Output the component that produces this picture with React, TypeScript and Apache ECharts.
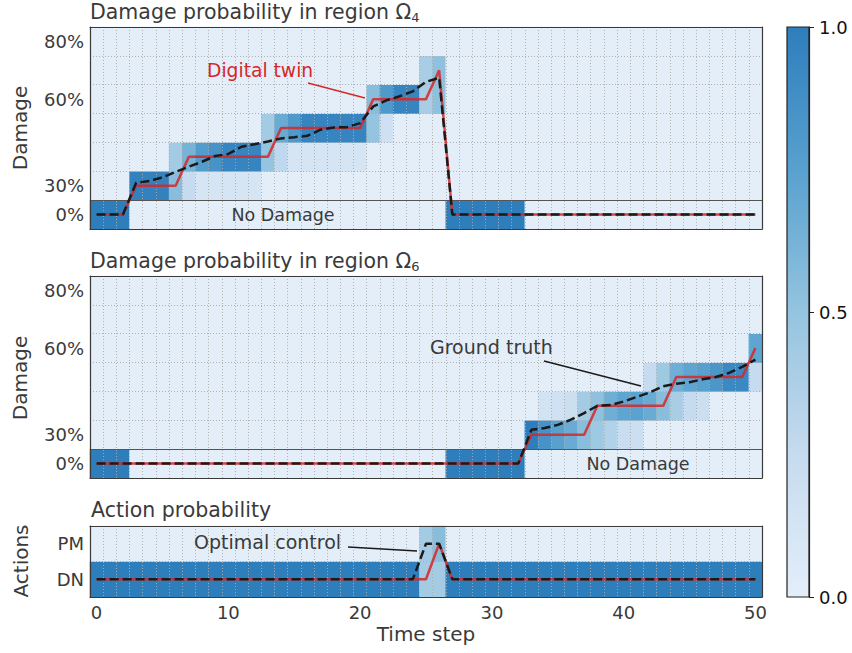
import React, { useEffect, useRef } from 'react';
import * as echarts from 'echarts';

// ---------- categories / ticks ----------
const timeSteps = Array.from({ length: 51 }, (_, i) => String(i));
const damageLevels = ['0%', '30%', '40%', '50%', '60%', '70%', '80%'];
const damageTickLabels = ['0%', '30%', '', '', '60%', '', '80%'];
const actionLabels = ['DN', 'PM'];
const colorbarTicks = [0, 0.5, 1];

// ---------- damage probability, region Omega_4 (rows = damage level, t = 0..50) ----------
const omega4Row0 = [1, 1, 1, 0, 0, 0, 0, 0, 0, 0, 0, 0, 0, 0, 0, 0, 0, 0, 0, 0, 0, 0, 0, 0, 0, 0, 0, 1, 1, 1, 1, 1, 1, 0, 0, 0, 0, 0, 0, 0, 0, 0, 0, 0, 0, 0, 0, 0, 0, 0, 0];
const omega4Row1 = [0, 0, 0, 0.97, 0.97, 0.97, 0.55, 0.25, 0.12, 0.12, 0.12, 0.12, 0.12, 0, 0, 0, 0, 0, 0, 0, 0, 0, 0, 0, 0, 0, 0, 0, 0, 0, 0, 0, 0, 0, 0, 0, 0, 0, 0, 0, 0, 0, 0, 0, 0, 0, 0, 0, 0, 0, 0];
const omega4Row2 = [0, 0, 0, 0, 0, 0, 0.42, 0.62, 0.78, 0.85, 0.95, 0.95, 0.95, 0.5, 0.28, 0.12, 0.12, 0.12, 0.12, 0.12, 0.12, 0, 0, 0, 0, 0, 0, 0, 0, 0, 0, 0, 0, 0, 0, 0, 0, 0, 0, 0, 0, 0, 0, 0, 0, 0, 0, 0, 0, 0, 0];
const omega4Row3 = [0, 0, 0, 0, 0, 0, 0, 0, 0, 0, 0, 0, 0, 0.42, 0.68, 0.8, 0.95, 0.95, 0.95, 0.95, 0.95, 0.5, 0.18, 0, 0, 0, 0, 0, 0, 0, 0, 0, 0, 0, 0, 0, 0, 0, 0, 0, 0, 0, 0, 0, 0, 0, 0, 0, 0, 0, 0];
const omega4Row4 = [0, 0, 0, 0, 0, 0, 0, 0, 0, 0, 0, 0, 0, 0, 0, 0, 0, 0, 0, 0, 0, 0.55, 0.8, 0.95, 0.95, 0.4, 0.52, 0, 0, 0, 0, 0, 0, 0, 0, 0, 0, 0, 0, 0, 0, 0, 0, 0, 0, 0, 0, 0, 0, 0, 0];
const omega4Row5 = [0, 0, 0, 0, 0, 0, 0, 0, 0, 0, 0, 0, 0, 0, 0, 0, 0, 0, 0, 0, 0, 0, 0, 0, 0, 0.4, 0.52, 0, 0, 0, 0, 0, 0, 0, 0, 0, 0, 0, 0, 0, 0, 0, 0, 0, 0, 0, 0, 0, 0, 0, 0];
const omega4Row6 = [0, 0, 0, 0, 0, 0, 0, 0, 0, 0, 0, 0, 0, 0, 0, 0, 0, 0, 0, 0, 0, 0, 0, 0, 0, 0, 0, 0, 0, 0, 0, 0, 0, 0, 0, 0, 0, 0, 0, 0, 0, 0, 0, 0, 0, 0, 0, 0, 0, 0, 0];

// ---------- damage probability, region Omega_6 ----------
const omega6Row0 = [1, 1, 1, 0, 0, 0, 0, 0, 0, 0, 0, 0, 0, 0, 0, 0, 0, 0, 0, 0, 0, 0, 0, 0, 0, 0, 0, 1, 1, 1, 1, 1, 1, 0, 0, 0, 0, 0, 0, 0, 0, 0, 0, 0, 0, 0, 0, 0, 0, 0, 0];
const omega6Row1 = [0, 0, 0, 0, 0, 0, 0, 0, 0, 0, 0, 0, 0, 0, 0, 0, 0, 0, 0, 0, 0, 0, 0, 0, 0, 0, 0, 0, 0, 0, 0, 0, 0, 1, 0.85, 0.75, 0.68, 0.55, 0.45, 0.35, 0.22, 0.2, 0, 0, 0, 0, 0, 0, 0, 0, 0];
const omega6Row2 = [0, 0, 0, 0, 0, 0, 0, 0, 0, 0, 0, 0, 0, 0, 0, 0, 0, 0, 0, 0, 0, 0, 0, 0, 0, 0, 0, 0, 0, 0, 0, 0, 0, 0, 0.15, 0.17, 0.2, 0.42, 0.52, 0.65, 0.72, 0.74, 0.68, 0.55, 0.4, 0.25, 0.2, 0, 0, 0, 0];
const omega6Row3 = [0, 0, 0, 0, 0, 0, 0, 0, 0, 0, 0, 0, 0, 0, 0, 0, 0, 0, 0, 0, 0, 0, 0, 0, 0, 0, 0, 0, 0, 0, 0, 0, 0, 0, 0, 0, 0, 0, 0, 0, 0, 0, 0.25, 0.45, 0.65, 0.72, 0.75, 0.82, 0.92, 0.92, 0.25];
const omega6Row4 = [0, 0, 0, 0, 0, 0, 0, 0, 0, 0, 0, 0, 0, 0, 0, 0, 0, 0, 0, 0, 0, 0, 0, 0, 0, 0, 0, 0, 0, 0, 0, 0, 0, 0, 0, 0, 0, 0, 0, 0, 0, 0, 0, 0, 0, 0, 0, 0, 0, 0, 0.72];
const omega6Row5 = [0, 0, 0, 0, 0, 0, 0, 0, 0, 0, 0, 0, 0, 0, 0, 0, 0, 0, 0, 0, 0, 0, 0, 0, 0, 0, 0, 0, 0, 0, 0, 0, 0, 0, 0, 0, 0, 0, 0, 0, 0, 0, 0, 0, 0, 0, 0, 0, 0, 0, 0];
const omega6Row6 = [0, 0, 0, 0, 0, 0, 0, 0, 0, 0, 0, 0, 0, 0, 0, 0, 0, 0, 0, 0, 0, 0, 0, 0, 0, 0, 0, 0, 0, 0, 0, 0, 0, 0, 0, 0, 0, 0, 0, 0, 0, 0, 0, 0, 0, 0, 0, 0, 0, 0, 0];

// ---------- action probability ----------
const actionDN = [1, 1, 1, 1, 1, 1, 1, 1, 1, 1, 1, 1, 1, 1, 1, 1, 1, 1, 1, 1, 1, 1, 1, 1, 1, 0.42, 0.42, 1, 1, 1, 1, 1, 1, 1, 1, 1, 1, 1, 1, 1, 1, 1, 1, 1, 1, 1, 1, 1, 1, 1, 1];
const actionPM = [0, 0, 0, 0, 0, 0, 0, 0, 0, 0, 0, 0, 0, 0, 0, 0, 0, 0, 0, 0, 0, 0, 0, 0, 0, 0.42, 0.55, 0, 0, 0, 0, 0, 0, 0, 0, 0, 0, 0, 0, 0, 0, 0, 0, 0, 0, 0, 0, 0, 0, 0, 0];

// ---------- trajectories (damage in %) ----------
const omega4Truth = [0, 0, 0, 31, 31.6, 32.9, 34.8, 36.6, 38.3, 40.3, 41, 43.5, 44.4, 45.3, 46.4, 46.8, 47.3, 49.4, 50.2, 50.3, 51.7, 57.5, 59.6, 61, 62.7, 66, 67.4, 0, 0, 0, 0, 0, 0, 0, 0, 0, 0, 0, 0, 0, 0, 0, 0, 0, 0, 0, 0, 0, 0, 0, 0];
const omega4Twin = [0, 0, 0, 30, 30, 30, 30, 40, 40, 40, 40, 40, 40, 40, 50, 50, 50, 50, 50, 50, 50, 60, 60, 60, 60, 60, 70, 0, 0, 0, 0, 0, 0, 0, 0, 0, 0, 0, 0, 0, 0, 0, 0, 0, 0, 0, 0, 0, 0, 0, 0];
const omega6Truth = [0, 0, 0, 0, 0, 0, 0, 0, 0, 0, 0, 0, 0, 0, 0, 0, 0, 0, 0, 0, 0, 0, 0, 0, 0, 0, 0, 0, 0, 0, 0, 0, 0, 31.7, 32.3, 33.4, 35.2, 37.5, 40, 40.3, 41.5, 43.1, 44.7, 46.8, 47.7, 48.2, 49.2, 50, 51.4, 53.5, 56];
const omega6Twin = [0, 0, 0, 0, 0, 0, 0, 0, 0, 0, 0, 0, 0, 0, 0, 0, 0, 0, 0, 0, 0, 0, 0, 0, 0, 0, 0, 0, 0, 0, 0, 0, 0, 30, 30, 30, 30, 30, 40, 40, 40, 40, 40, 40, 50, 50, 50, 50, 50, 50, 60];
const actionOptimal = [0, 0, 0, 0, 0, 0, 0, 0, 0, 0, 0, 0, 0, 0, 0, 0, 0, 0, 0, 0, 0, 0, 0, 0, 0, 1, 1, 0, 0, 0, 0, 0, 0, 0, 0, 0, 0, 0, 0, 0, 0, 0, 0, 0, 0, 0, 0, 0, 0, 0, 0];
const actionTwin = [0, 0, 0, 0, 0, 0, 0, 0, 0, 0, 0, 0, 0, 0, 0, 0, 0, 0, 0, 0, 0, 0, 0, 0, 0, 0, 1, 0, 0, 0, 0, 0, 0, 0, 0, 0, 0, 0, 0, 0, 0, 0, 0, 0, 0, 0, 0, 0, 0, 0, 0];

// ---------- styling ----------
const FONT = 'DejaVu Sans';
const TXT = '#3a3a3a';
const FRAME = '#3a3a3a';
const GRIDC = 'rgba(170,170,170,0.9)';
const RED = '#d62728';
const BLACK = '#1a1a1a';
const CMAP = ['#e3eef9', '#c6dbef', '#94c4df', '#58a1cf', '#2e7ebc'];

const omega4Rows = [omega4Row0, omega4Row1, omega4Row2, omega4Row3, omega4Row4, omega4Row5, omega4Row6];
const omega6Rows = [omega6Row0, omega6Row1, omega6Row2, omega6Row3, omega6Row4, omega6Row5, omega6Row6];
const actionRows = [actionDN, actionPM];

// damage percentage -> row position on the level axis (0% row, then 30%,40%,... rows)
const damageToRow = (d: number) => (d === 0 ? 0 : 1 + (d - 30) / 10);

function cells(rows: number[][]) {
  const out: number[][] = [];
  rows.forEach((row, r) => row.forEach((v, t) => out.push([t, r, v])));
  return out;
}

export default function App() {
  const ref = useRef<HTMLDivElement>(null);
  useEffect(() => {
    if (!ref.current) return;
    const chart = echarts.init(ref.current, undefined, { renderer: 'svg' });

    const grids = [
      { left: 90, top: 27, width: 672, height: 202 },
      { left: 90, top: 276, width: 672, height: 202 },
      { left: 90, top: 526, width: 672, height: 71 },
      { left: 787, top: 27, width: 22, height: 570 },
    ].map((g) => ({ ...g, show: false, containLabel: false, outerBoundsMode: 'none' }));

    const nRows = [7, 7, 2];
    const yCats = [damageLevels, damageLevels, actionLabels];
    const yFmt = [
      (_: string, i: number) => damageTickLabels[i],
      (_: string, i: number) => damageTickLabels[i],
      (v: string) => v,
    ];

    const xAxis: any[] = [];
    const yAxis: any[] = [];
    for (let g = 0; g < 3; g++) {
      xAxis.push({
        type: 'category', gridIndex: g, data: timeSteps, boundaryGap: true, position: 'bottom', z: 5,
        axisLine: { show: true, onZero: false, lineStyle: { color: FRAME, width: 1.2 } },
        axisTick: { show: false },
        axisLabel: {
          show: g === 2, interval: (i: number) => i % 10 === 0, margin: 6,
          fontSize: 18, fontFamily: FONT, color: TXT,
        },
        splitLine: { show: true, interval: 0, lineStyle: { color: GRIDC, type: [1, 2], width: 1 } },
      });
    }
    for (let g = 0; g < 3; g++) {
      yAxis.push({
        type: 'category', gridIndex: g, data: yCats[g], position: 'left', z: 5,
        axisLine: { show: true, onZero: false, lineStyle: { color: FRAME, width: 1.2 } },
        axisTick: { show: false },
        axisLabel: { show: true, interval: 0, formatter: yFmt[g], margin: 6, fontSize: 18, fontFamily: FONT, color: TXT },
        splitLine: { show: true, interval: 0, lineStyle: { color: GRIDC, type: [1, 2], width: 1 } },
      });
    }
    for (let g = 0; g < 3; g++) {
      xAxis.push({
        type: 'value', gridIndex: g, min: -0.5, max: 50.5, position: 'top', z: 5,
        axisLine: { show: true, onZero: false, lineStyle: { color: FRAME, width: 1.2 } },
        axisTick: { show: false }, axisLabel: { show: false }, splitLine: { show: false },
      });
      yAxis.push({
        type: 'value', gridIndex: g, min: -0.5, max: nRows[g] - 0.5, position: 'right', z: 5,
        axisLine: { show: true, onZero: false, lineStyle: { color: FRAME, width: 1.2 } },
        axisTick: { show: false }, axisLabel: { show: false }, splitLine: { show: false },
      });
    }
    // colorbar axes
    xAxis.push({ type: 'value', gridIndex: 3, show: false, min: 0, max: 1 });
    yAxis.push({
      type: 'value', gridIndex: 3, min: 0, max: 1, interval: 0.5, position: 'right', z: 5,
      axisLine: { show: true, onZero: false, lineStyle: { color: '#222', width: 1.2 } },
      axisTick: { show: true, length: 5, lineStyle: { color: '#222', width: 1 } },
      axisLabel: {
        show: true, margin: 10, fontSize: 18, fontFamily: FONT, color: '#111',
        formatter: (v: number) => (colorbarTicks.includes(v) ? v.toFixed(1) : ''),
      },
      splitLine: { show: false },
    });

    const heat = (g: number, rows: number[][]) => ({
      type: 'heatmap', xAxisIndex: g, yAxisIndex: g, data: cells(rows), z: 1,
      itemStyle: { borderWidth: 0 }, emphasis: { disabled: true }, silent: true,
    });
    const sep = {
      silent: true, symbol: ['none', 'none'], label: { show: false },
      lineStyle: { color: '#555', type: 'solid', width: 1.2 }, data: [{ yAxis: 0.5 }],
    };
    const twinLine = (g: number, vals: number[], conv: (d: number) => number, withSep: boolean) => ({
      type: 'line', xAxisIndex: 3 + g, yAxisIndex: 3 + g, z: 8, symbol: 'none', silent: true,
      data: vals.map((d, t) => [t, conv(d)]),
      lineStyle: { color: RED, width: 2.5, opacity: 0.85 },
      ...(withSep ? { markLine: sep } : {}),
    });
    const truthLine = (g: number, vals: number[], conv: (d: number) => number) => ({
      type: 'line', xAxisIndex: 3 + g, yAxisIndex: 3 + g, z: 9, symbol: 'none', silent: true,
      data: vals.map((d, t) => [t, conv(d)]),
      lineStyle: { color: BLACK, width: 2.5, type: [9, 4] },
    });
    const ident = (d: number) => d;

    const series: any[] = [
      heat(0, omega4Rows), heat(1, omega6Rows), heat(2, actionRows),
      twinLine(0, omega4Twin, damageToRow, true), truthLine(0, omega4Truth, damageToRow),
      twinLine(1, omega6Twin, damageToRow, true), truthLine(1, omega6Truth, damageToRow),
      twinLine(2, actionTwin, ident, false), truthLine(2, actionOptimal, ident),
    ];

    const txt = (text: string, x: number, y: number, opts: any = {}) => ({
      type: 'text', x, y, z: 20, silent: true, rotation: opts.rotation || 0,
      style: {
        text, fill: opts.fill || TXT, font: `${opts.size || 18}px ${FONT}`,
        align: opts.align || 'left', textAlign: opts.align || 'left',
        verticalAlign: 'middle', textVerticalAlign: 'middle',
        rich: opts.rich,
      },
    });
    const richTitle = {
      a: { fontSize: 20.5, fontFamily: FONT, fill: TXT },
      s: { fontSize: 13, fontFamily: FONT, fill: TXT, padding: [11, 0, 0, 0] },
    };
    const ann = (x1: number, y1: number, x2: number, y2: number, color: string) => ({
      type: 'line', z: 20, silent: true, shape: { x1, y1, x2, y2 },
      style: { stroke: color, lineWidth: 1.3 },
    });

    const graphic: any[] = [
      {
        type: 'rect', z: 1, silent: true, shape: { x: 787, y: 27, width: 22, height: 570 },
        style: {
          fill: new echarts.graphic.LinearGradient(0, 1, 0, 0, CMAP.map((c, i) => ({ offset: i / (CMAP.length - 1), color: c }))),
          stroke: '#222', lineWidth: 1.2,
        },
      },
      txt('{a|Damage probability in region Ω}{s|4}', 90, 12, { rich: richTitle, size: 20.5 }),
      txt('{a|Damage probability in region Ω}{s|6}', 90, 261, { rich: richTitle, size: 20.5 }),
      txt('Action probability', 91, 510, { size: 20.5 }),
      txt('Damage', 20, 128, { rotation: Math.PI / 2, align: 'center', size: 20 }),
      txt('Damage', 20, 378, { rotation: Math.PI / 2, align: 'center', size: 20 }),
      txt('Actions', 21, 561, { rotation: Math.PI / 2, align: 'center', size: 20 }),
      txt('Time step', 426, 634, { align: 'center', size: 20 }),
      txt('No Damage', 283, 215, { align: 'center', size: 17.5 }),
      txt('No Damage', 638, 464, { align: 'center', size: 17.5 }),
      txt('Digital twin', 207, 70, { fill: RED, size: 18.7 }),
      ann(308, 83, 365, 98, RED),
      txt('Ground truth', 430, 347, { size: 19 }),
      ann(544, 361, 641, 386, BLACK),
      txt('Optimal control', 194, 542, { size: 19 }),
      ann(348, 547, 417, 551, BLACK),
    ];

    chart.setOption({
      animation: false,
      backgroundColor: '#ffffff',
      textStyle: { fontFamily: FONT },
      grid: grids,
      xAxis, yAxis,
      visualMap: {
        type: 'continuous', min: 0, max: 1, show: false, seriesIndex: [0, 1, 2],
        inRange: { color: CMAP },
      },
      series,
      graphic,
    });
    return () => chart.dispose();
  }, []);
  return <div ref={ref} style={{ position: 'fixed', left: 0, top: 0, width: 852, height: 653 }} />;
}
